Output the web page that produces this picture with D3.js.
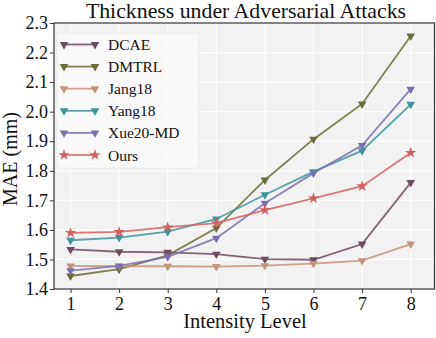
<!DOCTYPE html>
<html>
<head>
<meta charset="utf-8">
<script src="https://cdn.jsdelivr.net/npm/d3@7"></script>
<style>
  body { margin: 0; background: #fff; }
  text { font-family: "Liberation Serif", "DejaVu Serif", serif; }
</style>
</head>
<body>
<div id="chart"></div>
<script>
// intensity levels on the x axis
const levels = [1, 2, 3, 4, 5, 6, 7, 8];
const yTicks = [1.4, 1.5, 1.6, 1.7, 1.8, 1.9, 2.0, 2.1, 2.2, 2.3];

const seriesNames = ["DCAE", "DMTRL", "Jang18", "Yang18", "Xue20-MD", "Ours"];
const dcae   = [1.534, 1.526, 1.524, 1.518, 1.501, 1.499, 1.552, 1.760];
const dmtrl  = [1.444, 1.467, 1.514, 1.606, 1.769, 1.907, 2.026, 2.256];
const jang18 = [1.478, 1.477, 1.477, 1.476, 1.479, 1.486, 1.496, 1.552];
const yang18 = [1.565, 1.574, 1.594, 1.637, 1.719, 1.797, 1.868, 2.025];
const xue20  = [1.462, 1.478, 1.509, 1.572, 1.690, 1.792, 1.886, 2.076];
const ours   = [1.590, 1.593, 1.609, 1.623, 1.667, 1.707, 1.748, 1.861];

const colors  = ["#6e4a60", "#6b6b35", "#c3937a", "#3f939c", "#7a6fae", "#d2605f"];
const markers = ["tri", "tri", "tri", "tri", "tri", "star"];

const allValues = [dcae, dmtrl, jang18, yang18, xue20, ours];

const width = 436, height = 338;
const margin = {top: 23, right: 1, bottom: 49, left: 54};

const svg = d3.select("#chart").append("svg")
    .attr("width", width)
    .attr("height", height);

const x = d3.scaleLinear()
    .domain([0.66, 8.5])
    .range([margin.left, width - margin.right]);

const y = d3.scaleLinear()
    .domain([1.4, 2.3])
    .range([height - margin.bottom, margin.top]);

// background
svg.append("rect")
    .attr("x", margin.left).attr("y", margin.top)
    .attr("width", width - margin.left - margin.right)
    .attr("height", height - margin.top - margin.bottom)
    .attr("fill", "#f2f2f2");

// grid
const grid = svg.append("g");
grid.selectAll(".gx").data(levels).enter().append("line")
    .attr("x1", d => x(d)).attr("x2", d => x(d))
    .attr("y1", margin.top).attr("y2", height - margin.bottom)
    .attr("stroke", "#fff").attr("stroke-width", 1.2);
grid.selectAll(".gy").data(yTicks).enter().append("line")
    .attr("x1", margin.left).attr("x2", width - margin.right)
    .attr("y1", d => y(d)).attr("y2", d => y(d))
    .attr("stroke", "#fff").attr("stroke-width", 1.2);

// axes
const xAxis = svg.append("g")
    .attr("transform", "translate(0," + (height - margin.bottom) + ")")
    .call(d3.axisBottom(x).tickValues(levels).tickSize(4).tickPadding(4).tickFormat(d3.format("d")));
const yAxis = svg.append("g")
    .attr("transform", "translate(" + margin.left + ",0)")
    .call(d3.axisLeft(y).tickValues(yTicks).tickSize(4).tickPadding(2).tickFormat(d3.format(".1f")));

[xAxis, yAxis].forEach(function(a) {
    a.select(".domain").remove();
    a.selectAll("text").attr("font-size", 18).attr("fill", "#111")
        .style("font-family", "Liberation Serif");
    a.selectAll("line").attr("stroke", "#333");
});

// frame
svg.append("rect")
    .attr("x", margin.left).attr("y", margin.top)
    .attr("width", width - margin.left - margin.right - 0.5)
    .attr("height", height - margin.top - margin.bottom)
    .attr("fill", "none").attr("stroke", "#333").attr("stroke-width", 1.2);

// lines
const line = d3.line()
    .x((d, i) => x(levels[i]))
    .y(d => y(d));

const triangle = d3.symbol().type(d3.symbolTriangle).size(32);
const star = d3.symbol().type(d3.symbolStar).size(40);

function drawMarker(g, kind, color) {
    if (kind === "star") {
        g.append("path").attr("d", star()).attr("fill", color);
    } else {
        g.append("path").attr("d", triangle()).attr("transform", "rotate(180)")
            .attr("fill", color);
    }
}

allValues.forEach(function(vals, k) {
    svg.append("path")
        .datum(vals)
        .attr("d", line)
        .attr("fill", "none")
        .attr("stroke", colors[k])
        .attr("stroke-opacity", 0.85)
        .attr("stroke-width", 1.8);
    vals.forEach(function(v, i) {
        const g = svg.append("g")
            .attr("transform", "translate(" + x(levels[i]) + "," + y(v) + ")");
        drawMarker(g, markers[k], colors[k]);
    });
});

// legend
const legend = svg.append("g");
legend.append("rect")
    .attr("x", 57).attr("y", 33)
    .attr("width", 142).attr("height", 135)
    .attr("rx", 3)
    .attr("fill", "#fafafa").attr("fill-opacity", 0.85)
    .attr("stroke", "#eeeeee");

seriesNames.forEach(function(name, k) {
    const ly = 44.5 + k * 22.1;
    legend.append("line")
        .attr("x1", 64).attr("x2", 95)
        .attr("y1", ly).attr("y2", ly)
        .attr("stroke", colors[k]).attr("stroke-opacity", 0.85).attr("stroke-width", 1.8);
    [64, 95].forEach(function(lx) {
        const g = legend.append("g").attr("transform", "translate(" + lx + "," + ly + ")");
        drawMarker(g, markers[k], colors[k]);
    });
    legend.append("text")
        .attr("x", 108).attr("y", ly + 5.5)
        .attr("font-size", 15.5).attr("fill", "#111")
        .text(name);
});

// title and labels
svg.append("text")
    .attr("x", 246).attr("y", 18)
    .attr("text-anchor", "middle")
    .attr("font-size", 21.8).attr("fill", "#111")
    .text("Thickness under Adversarial Attacks");

svg.append("text")
    .attr("x", 245).attr("y", 328)
    .attr("text-anchor", "middle")
    .attr("font-size", 20.5).attr("fill", "#111")
    .text("Intensity Level");

svg.append("text")
    .attr("transform", "translate(17,159) rotate(-90)")
    .attr("text-anchor", "middle")
    .attr("font-size", 20).attr("fill", "#111")
    .text("MAE (mm)");
</script>
</body>
</html>
